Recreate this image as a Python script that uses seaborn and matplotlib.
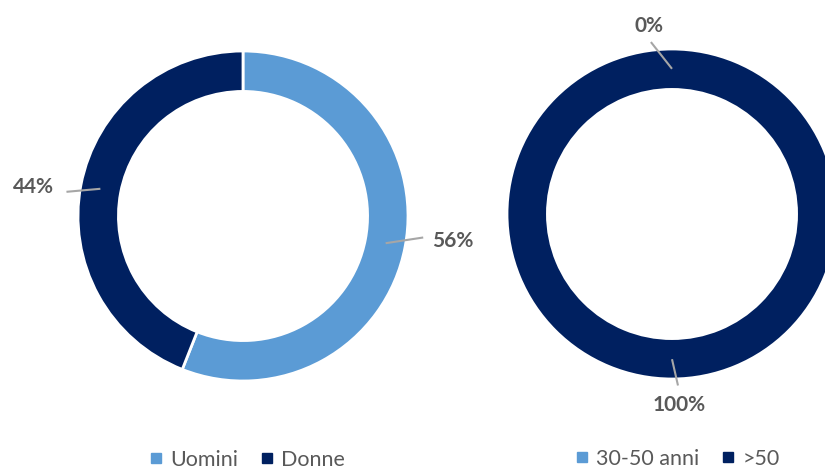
import numpy as np
import matplotlib.pyplot as plt
import seaborn as sns
from matplotlib.lines import Line2D

sns.set_theme(style="white")
plt.rcParams['font.family'] = ['Lato', 'DejaVu Sans']

# Data
gender_labels = ["Uomini", "Donne"]
gender_values = [56, 44]
age_labels = ["30-50 anni", ">50"]
age_values = [0, 100]

colors = ["#5B9BD5", "#002060"]
text_grey = "#595959"
line_grey = "#A6A6A6"

fig = plt.figure(figsize=(8.25, 4.7), dpi=100)

# axes placed in pixels so both rings have the same radius (165 px)
R = 165
half = 1.2 * R
W, H = 825, 470


def donut_axes(cx, cy):
    ax = fig.add_axes([(cx - half) / W, (H - cy - half) / H, 2 * half / W, 2 * half / H])
    ax.set_xlim(-1.2, 1.2)
    ax.set_ylim(-1.2, 1.2)
    ax.set_aspect("equal")
    ax.axis("off")
    return ax


def draw_donut(ax, values, line_r, label_r, nudges):
    wedges, _ = ax.pie(values, colors=colors, startangle=90, counterclock=False,
                       radius=1.0, wedgeprops=dict(width=0.245, edgecolor="white", linewidth=2))
    ax.set_xlim(-1.2, 1.2)
    ax.set_ylim(-1.2, 1.2)
    for w, v, lr, tr, nd in zip(wedges, values, line_r, label_r, nudges):
        mid = np.deg2rad((w.theta1 + w.theta2) / 2)
        a = mid + np.deg2rad(nd)
        p0 = (0.88 * np.cos(mid), 0.88 * np.sin(mid))
        p1 = (lr * np.cos(a), lr * np.sin(a))
        pt = (tr * np.cos(a), tr * np.sin(a))
        ax.plot([p0[0], p1[0]], [p0[1], p1[1]], color=line_grey, lw=1.5, solid_capstyle="butt")
        ax.text(pt[0], pt[1], f"{v}%", ha="center", va="center", fontsize=15,
                fontweight="bold", color=text_grey)


ax1 = donut_axes(243, 216)
draw_donut(ax1, gender_values, line_r=[1.10, 1.08], label_r=[1.28, 1.28], nudges=[4, 3])

ax2 = donut_axes(672, 214)
draw_donut(ax2, age_values, line_r=[1.05, 1.04], label_r=[1.15, 1.16], nudges=[7, 2])


def add_legend(labels, x, y):
    handles = [Line2D([0], [0], marker="s", linestyle="", markersize=7,
                      markerfacecolor=c, markeredgecolor=c) for c in colors]
    fig.legend(handles, labels, loc="center", bbox_to_anchor=(x / W, 1 - y / H), ncol=2,
               frameon=False, fontsize=15.5, labelcolor=text_grey, handletextpad=0.3,
               columnspacing=1.0, handlelength=0.7)


add_legend(gender_labels, 247, 460)
add_legend(age_labels, 677, 459)

plt.savefig("out.png", dpi=100)
